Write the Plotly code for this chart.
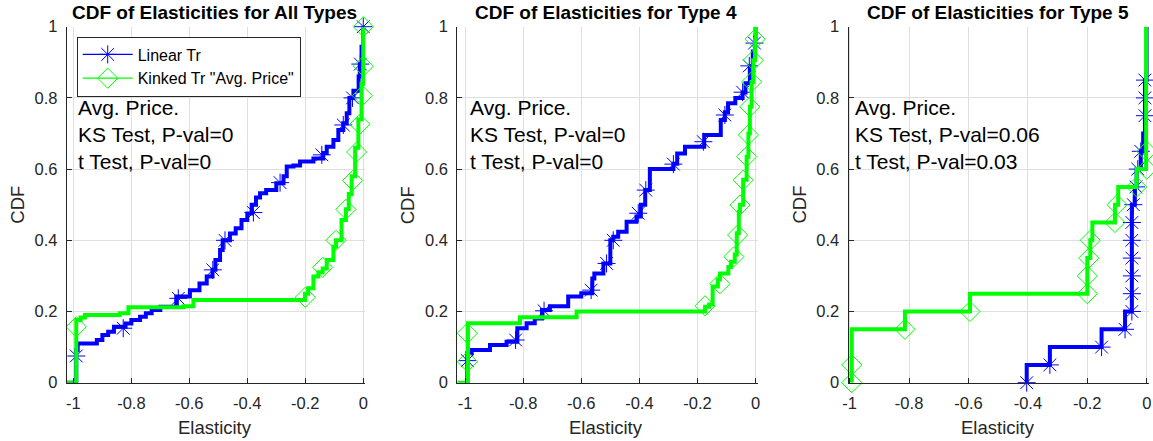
import plotly.graph_objects as go

# ---------------- data ----------------
panel_titles = ["CDF of Elasticities for All Types",
                "CDF of Elasticities for Type 4",
                "CDF of Elasticities for Type 5"]
stat_lines = [["Avg. Price.", "KS Test, P-val=0", "t Test, P-val=0"],
              ["Avg. Price.", "KS Test, P-val=0", "t Test, P-val=0"],
              ["Avg. Price.", "KS Test, P-val=0.06", "t Test, P-val=0.03"]]
series_names = ["Linear Tr", 'Kinked Tr "Avg. Price"']
x_label = "Elasticity"
y_label = "CDF"
x_tick_vals = [-1, -0.8, -0.6, -0.4, -0.2, 0]
x_tick_text = ["-1", "-0.8", "-0.6", "-0.4", "-0.2", "0"]
y_tick_vals = [0, 0.2, 0.4, 0.6, 0.8, 1]
y_tick_text = ["0", "0.2", "0.4", "0.6", "0.8", "1"]

# Panel 1 (All Types) - step CDFs
lin_all_x = [-1.03, -0.99, -0.985, -0.919, -0.90, -0.88, -0.86, -0.82, -0.80, -0.77, -0.75,
             -0.73, -0.70, -0.645, -0.598, -0.565, -0.54, -0.52, -0.51, -0.494, -0.485, -0.46,
             -0.44, -0.42, -0.40, -0.385, -0.37, -0.356, -0.335, -0.30, -0.275, -0.264, -0.241,
             -0.218, -0.172, -0.138, -0.126, -0.103, -0.086, -0.069, -0.057, -0.048, -0.034,
             -0.016, -0.012, -0.006, 0.0]
lin_all_cdf = [0.0, 0.092, 0.11, 0.12, 0.134, 0.143, 0.157, 0.166, 0.176, 0.185, 0.195,
               0.204, 0.213, 0.242, 0.26, 0.279, 0.298, 0.317, 0.345, 0.373, 0.40, 0.419,
               0.434, 0.457, 0.475, 0.50, 0.52, 0.532, 0.541, 0.56, 0.58, 0.607, 0.61,
               0.621, 0.63, 0.645, 0.663, 0.682, 0.71, 0.729, 0.757, 0.80, 0.82,
               0.86, 0.894, 0.944, 1.0]
lin_all_mx = [-0.99, -0.828, -0.638, -0.519, -0.477, -0.379, -0.287, -0.143, -0.069, -0.037, -0.01, 0.0]
lin_all_my = [0.075, 0.153, 0.237, 0.317, 0.40, 0.478, 0.562, 0.64, 0.724, 0.80, 0.895, 1.0]

kink_all_x = [-1.03, -0.99, -0.975, -0.96, -0.84, -0.81, -0.62, -0.586, -0.201, -0.19, -0.172,
              -0.155, -0.14, -0.126, -0.103, -0.094, -0.075, -0.06, -0.05, -0.04, -0.028,
              -0.017, -0.006, 0.0]
kink_all_cdf = [0.0, 0.176, 0.183, 0.19, 0.195, 0.212, 0.215, 0.232, 0.25, 0.265, 0.298,
                0.31, 0.321, 0.345, 0.382, 0.40, 0.457, 0.487, 0.53, 0.58, 0.66,
                0.74, 0.84, 1.0]
kink_all_mx = [-0.99, -0.2, -0.14, -0.094, -0.06, -0.037, -0.023, -0.012, -0.003, 0.0, 0.0]
kink_all_my = [0.157, 0.24, 0.324, 0.40, 0.487, 0.568, 0.648, 0.726, 0.806, 0.889, 1.0]

# Panel 2 (Type 4)
lin_t4_x = [-0.992, -0.992, -0.977, -0.914, -0.857, -0.82, -0.788, -0.76, -0.735, -0.708,
            -0.645, -0.60, -0.562, -0.555, -0.524, -0.50, -0.49, -0.473, -0.444, -0.41,
            -0.395, -0.38, -0.364, -0.283, -0.27, -0.243, -0.177, -0.12, -0.106, -0.095,
            -0.07, -0.045, -0.035, -0.02, -0.01, -0.002, 0.0]
lin_t4_cdf = [0.0, 0.083, 0.092, 0.106, 0.115, 0.153, 0.167, 0.18, 0.204, 0.215,
              0.242, 0.251, 0.293, 0.307, 0.335, 0.40, 0.41, 0.424, 0.452, 0.467,
              0.50, 0.541, 0.60, 0.615, 0.644, 0.663, 0.696, 0.738, 0.76, 0.785,
              0.80, 0.815, 0.841, 0.888, 0.93, 0.97, 1.0]
lin_t4_mx = [-0.992, -0.826, -0.728, -0.566, -0.513, -0.49, -0.404, -0.378, -0.283, -0.18,
             -0.106, -0.045, -0.022, -0.004]
lin_t4_my = [0.062, 0.12, 0.202, 0.26, 0.335, 0.40, 0.476, 0.541, 0.614, 0.677,
             0.752, 0.816, 0.89, 0.954]

kink_t4_x = [-1.03, -0.99, -0.811, -0.616, -0.174, -0.16, -0.148, -0.13, -0.123, -0.094,
             -0.085, -0.072, -0.065, -0.058, -0.054, -0.043, -0.031, -0.025, -0.02, -0.014,
             -0.008, -0.002, 0.0]
kink_t4_cdf = [0.0, 0.167, 0.184, 0.20, 0.213, 0.22, 0.27, 0.29, 0.307, 0.325,
               0.34, 0.36, 0.42, 0.48, 0.50, 0.57, 0.635, 0.70, 0.775, 0.845,
               0.906, 0.965, 1.0]
kink_t4_mx = [-0.992, -0.992, -0.174, -0.123, -0.075, -0.062, -0.054, -0.043, -0.031, -0.025,
              -0.02, -0.014, -0.008, -0.002]
kink_t4_my = [0.059, 0.139, 0.216, 0.278, 0.354, 0.415, 0.499, 0.569, 0.635, 0.696,
              0.775, 0.845, 0.906, 0.965]

# Panel 3 (Type 5)
lin_t5_x = [-0.404, -0.404, -0.326, -0.152, -0.073, -0.05, -0.04, -0.034, -0.02, -0.012, -0.006, 0.0]
lin_t5_cdf = [0.0, 0.05, 0.10, 0.15, 0.20, 0.50, 0.55, 0.60, 0.65, 0.70, 0.85, 1.0]
lin_t5_mx = [-0.404, -0.326, -0.152, -0.073, -0.05, -0.05, -0.05, -0.05, -0.05, -0.05,
             -0.045, -0.036, -0.03, -0.02, -0.006, -0.006, -0.006]
lin_t5_my = [0.0, 0.05, 0.10, 0.15, 0.20, 0.25, 0.30, 0.35, 0.40, 0.45,
             0.50, 0.55, 0.60, 0.65, 0.75, 0.80, 0.85]

kink_t5_x = [-0.993, -0.993, -0.814, -0.595, -0.2, -0.19, -0.183, -0.107, -0.096, -0.034, -0.002]
kink_t5_cdf = [0.0, 0.15, 0.20, 0.25, 0.35, 0.40, 0.45, 0.50, 0.55, 0.60, 1.0]
kink_t5_mx = [-0.993, -0.993, -0.814, -0.595, -0.2, -0.2, -0.195, -0.19, -0.107, -0.1, -0.034, 0.0, 0.0]
kink_t5_my = [0.0, 0.05, 0.15, 0.20, 0.25, 0.30, 0.35, 0.40, 0.45, 0.50, 0.55, 0.60, 0.65]

# --------------- styling / layout ---------------
W, H = 1153, 441
BLUE = "#0000FF"
GREEN = "#00FF00"
AX = "#262626"
GRID = "#dfdfdf"
FONT = "Liberation Sans, Arial, sans-serif"

# plot-area pixel geometry: (left px, right px, left x value, right x value)
geom = [(66.7, 365.3, -1.023, 0.007), (457.3, 757.7, -1.0265, 0.007), (848.5, 1148.8, -1.004, 0.007)]
y_top_px, y_bot_px = 26.7, 382.7

panels = [
    (lin_all_x, lin_all_cdf, lin_all_mx, lin_all_my, kink_all_x, kink_all_cdf, kink_all_mx, kink_all_my),
    (lin_t4_x, lin_t4_cdf, lin_t4_mx, lin_t4_my, kink_t4_x, kink_t4_cdf, kink_t4_mx, kink_t4_my),
    (lin_t5_x, lin_t5_cdf, lin_t5_mx, lin_t5_my, kink_t5_x, kink_t5_cdf, kink_t5_mx, kink_t5_my),
]

star_marker = dict(symbol="asterisk-open", size=15, color=BLUE, line=dict(color=BLUE, width=1))
diamond_marker = dict(symbol="diamond-open", size=15.5, color=GREEN, line=dict(color=GREEN, width=1))


def px2fx(px):
    return min(1.0, max(0.0, px / W))


def px2fy(py):
    return 1 - py / H


fig = go.Figure()
layout = dict(
    template="none",
    width=W, height=H, autosize=False, margin=dict(l=0, r=0, t=0, b=0, pad=0),
    paper_bgcolor="white", plot_bgcolor="white",
    font=dict(family=FONT, color=AX),
    showlegend=True,
    legend=dict(x=px2fx(76.7), y=px2fy(36.5), xanchor="left", yanchor="top",
                bgcolor="white", bordercolor=AX, borderwidth=1,
                font=dict(family=FONT, size=16, color="#000000"),
                itemwidth=50, tracegroupgap=0),
)
annotations = []

for i, (lx, ly, lmx, lmy, kx, ky, kmx, kmy) in enumerate(panels):
    n = "" if i == 0 else str(i + 1)
    xa, ya = "x" + n, "y" + n
    left, right, xmin, xmax = geom[i]
    fig.add_trace(go.Scatter(x=lx, y=ly, mode="lines", line=dict(color=BLUE, width=4, shape="hv"),
                             xaxis=xa, yaxis=ya, showlegend=False, hoverinfo="skip"))
    fig.add_trace(go.Scatter(x=lmx, y=lmy, mode="markers", cliponaxis=False, marker=star_marker,
                             xaxis=xa, yaxis=ya, showlegend=False, hoverinfo="skip"))
    fig.add_trace(go.Scatter(x=kx, y=ky, mode="lines", line=dict(color=GREEN, width=4, shape="hv"),
                             xaxis=xa, yaxis=ya, showlegend=False, hoverinfo="skip"))
    fig.add_trace(go.Scatter(x=kmx, y=kmy, mode="markers", cliponaxis=False, marker=diamond_marker,
                             xaxis=xa, yaxis=ya, showlegend=False, hoverinfo="skip"))
    scale = (right - left) / (xmax - xmin)
    axis_common = dict(ticks="inside", ticklen=5, tickcolor=AX, tickwidth=1,
                       showline=True, linecolor=AX, linewidth=1, automargin=False,
                       showgrid=True, gridcolor=GRID, gridwidth=1, zeroline=False, mirror=False,
                       tickfont=dict(family=FONT, size=16.5, color=AX), fixedrange=True)
    layout["xaxis" + n] = dict(domain=[px2fx(left), px2fx(right)], range=[xmin, xmax], anchor=ya,
                               tickvals=x_tick_vals, ticktext=x_tick_text, ticklabelstandoff=5,
                               **axis_common)
    layout["yaxis" + n] = dict(domain=[px2fy(y_bot_px), px2fy(y_top_px)], range=[0, 1], anchor=xa,
                               tickvals=y_tick_vals, ticktext=y_tick_text, ticklabelstandoff=5,
                               **axis_common)
    cx = (left + (left + scale * (0 - xmin))) / 2
    annotations.append(dict(text="<b>" + panel_titles[i] + "</b>", x=px2fx(cx), y=px2fy(12.7),
                            xref="paper", yref="paper", xanchor="center", yanchor="middle",
                            showarrow=False, font=dict(family=FONT, size=19, color="#000000")))
    annotations.append(dict(text=x_label, x=px2fx(cx), y=px2fy(427), xref="paper", yref="paper",
                            xanchor="center", yanchor="middle", showarrow=False,
                            font=dict(family=FONT, size=18.5, color=AX)))
    annotations.append(dict(text=y_label, x=px2fx(left - 50), y=px2fy(205), xref="paper", yref="paper",
                            xanchor="center", yanchor="middle", textangle=-90, showarrow=False,
                            font=dict(family=FONT, size=18.5, color=AX)))
    for j, line in enumerate(stat_lines[i]):
        annotations.append(dict(text=line, x=-0.99, y=[0.772, 0.697, 0.622][j], xref=xa, yref=ya,
                                xanchor="left", yanchor="middle", showarrow=False,
                                font=dict(family=FONT, size=21, color="#000000")))

# legend entries (panel 1)
fig.add_trace(go.Scatter(x=[None], y=[None], mode="lines+markers", name=series_names[0],
                         line=dict(color=BLUE, width=1.2), marker=star_marker,
                         xaxis="x", yaxis="y"))
fig.add_trace(go.Scatter(x=[None], y=[None], mode="lines+markers", name=series_names[1],
                         line=dict(color=GREEN, width=1.2), marker=diamond_marker,
                         xaxis="x", yaxis="y"))

layout["annotations"] = annotations
fig.update_layout(**layout)
fig.write_html("out.html")
